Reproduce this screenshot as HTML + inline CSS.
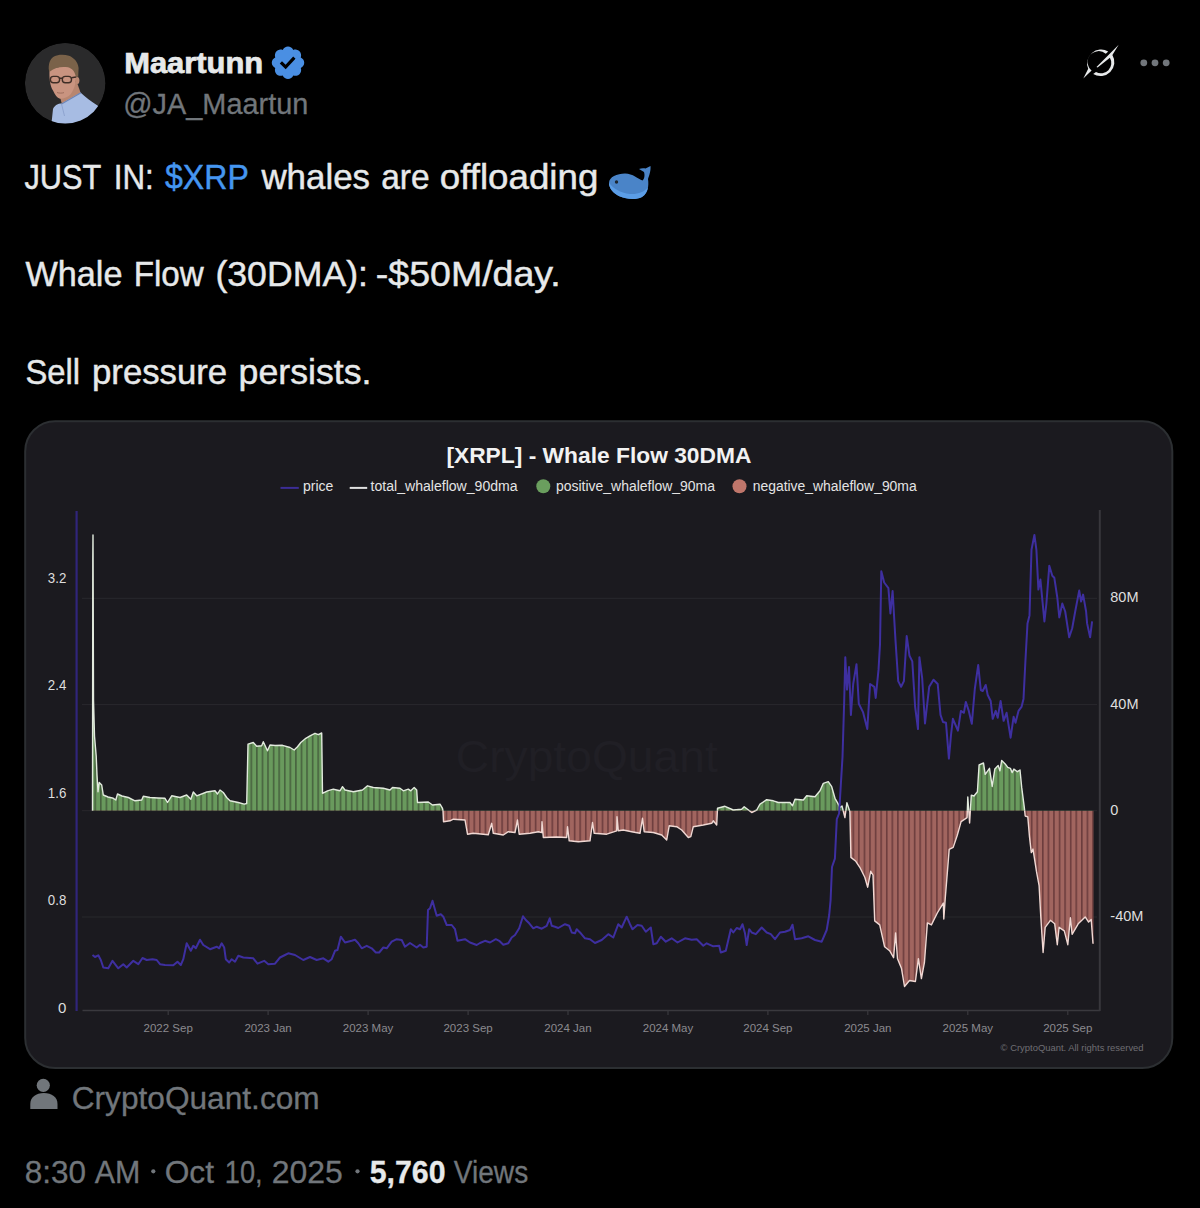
<!DOCTYPE html>
<html><head><meta charset="utf-8"><title>Maartunn on X</title>
<style>
html,body{margin:0;padding:0;background:#000;width:1200px;height:1208px;overflow:hidden}
svg{display:block}
</style></head><body>
<svg width="1200" height="1208" viewBox="0 0 1200 1208" font-family="Liberation Sans, sans-serif">
<defs>
<clipPath id="av"><circle cx="65.2" cy="83.2" r="40.3"/></clipPath>
<pattern id="pg" patternUnits="userSpaceOnUse" x="100" y="0" width="5.574" height="20">
<rect width="5.574" height="20" fill="#699a5d"/><rect width="1.6" height="20" fill="#47623f"/></pattern>
<pattern id="pr" patternUnits="userSpaceOnUse" x="100" y="0" width="5.574" height="20">
<rect width="5.574" height="20" fill="#a1655f"/><rect width="1.6" height="20" fill="#6c3d3d"/></pattern>
<clipPath id="up"><rect x="80" y="500" width="1030" height="310.70000000000005"/></clipPath>
<clipPath id="dn"><rect x="80" y="810.7" width="1030" height="220"/></clipPath>
</defs>

<!-- avatar -->
<g clip-path="url(#av)">
<circle cx="65.2" cy="83.2" r="40.3" fill="#2a2a2b"/>
<path d="M60,97 L62,104.5 L80.5,92.5 L76.5,81 Z" fill="#b88670"/>
<path d="M51,128 L53,109 C55,105 58,103.5 61.5,103.5 L80.5,92.5 C85,96.5 91,101.5 99,106.5 L106,128 Z" fill="#a7bce3"/>
<path d="M61.5,104 L81,92.8" stroke="#6d84b5" stroke-width="1.1" fill="none"/>
<path d="M61.5,104 L64.5,116" stroke="#8ea3cf" stroke-width="1" fill="none"/>
<path d="M49.6,69 C49,78 50,86 53,90.5 C55,95 57,98 60,98.7 C64,98.7 68,97 70.5,94.5 C73.5,90.5 75.5,85 76.3,78 L77,72 C75,68 70,66 64,66.5 C58,67 53,68 49.6,69 Z" fill="#c99480"/>
<ellipse cx="77.3" cy="80.5" rx="2.1" ry="3.6" fill="#bd8a74"/>
<path d="M49,71 C48,64 50,59 54,56.5 C58,54.5 64,54.3 69,55.8 C74,57.8 78,62 78.6,68 L78.2,77 L75.8,76.5 C74.8,71.5 72,68.3 68,67.3 C62,66.2 55,67.2 50,71.5 Z" fill="#7a6249"/>
<g fill="none" stroke="#3f2e26" stroke-width="1.4">
<rect x="50.4" y="76.4" width="9.2" height="6.4" rx="3"/>
<rect x="62.3" y="76.4" width="9.2" height="6.4" rx="3"/>
<path d="M59.6,78.3 L62.3,78.3 M71.5,77.8 L76,77"/>
</g>
<path d="M57,92.5 C59,93.3 62,93.3 64,92.6" stroke="#9a6a58" stroke-width="0.9" fill="none"/>
</g>

<!-- name -->
<text id="name" x="124.2" y="73.3" font-size="30.3" font-weight="bold" fill="#e7e9ea" stroke="#e7e9ea" stroke-width="0.75" textLength="139" lengthAdjust="spacingAndGlyphs">Maartunn</text>
<svg x="269" y="43.7" width="38" height="38" viewBox="0 0 22 22"><path fill="#4a8fe3" d="M20.396 11c-.018-.646-.215-1.275-.57-1.816-.354-.54-.852-.972-1.438-1.246.223-.607.27-1.264.14-1.897-.131-.634-.437-1.218-.882-1.687-.47-.445-1.053-.75-1.687-.882-.633-.13-1.29-.083-1.897.14-.273-.587-.704-1.086-1.245-1.44S11.647 1.62 11 1.604c-.646.017-1.273.213-1.813.568s-.969.854-1.24 1.44c-.608-.223-1.267-.272-1.902-.14-.635.13-1.22.436-1.69.882-.445.47-.749 1.055-.878 1.688-.13.633-.08 1.29.144 1.896-.587.274-1.087.705-1.443 1.245-.356.54-.555 1.17-.574 1.817.02.647.218 1.276.574 1.817.356.54.856.972 1.443 1.245-.224.606-.274 1.263-.144 1.896.13.634.433 1.218.877 1.688.47.443 1.054.747 1.687.878.633.132 1.29.084 1.897-.136.274.586.705 1.084 1.246 1.439.54.354 1.17.551 1.816.569.647-.016 1.276-.213 1.817-.567s.972-.854 1.245-1.44c.604.239 1.266.296 1.903.164.636-.132 1.22-.447 1.68-.907.46-.46.776-1.044.908-1.681s.075-1.299-.165-1.903c.586-.274 1.084-.705 1.439-1.246.354-.54.551-1.17.569-1.816zM9.662 14.85l-3.429-3.428 1.293-1.302 2.072 2.072 4.4-4.794 1.347 1.246z"/></svg>
<text id="handle" x="123.3" y="114.2" font-size="29" fill="#71767b" stroke="#71767b" stroke-width="0.3" textLength="185" lengthAdjust="spacingAndGlyphs">@JA_Maartun</text>

<!-- grok + more -->
<g fill="#e7e9ea">
<path d="M1108.2,51.4 A14,14 0 0 0 1088.2,68.8 L1083.3,78.5 L1091.6,70.6 A10.4,10.4 0 0 1 1105.8,53.7 Z"/>
<path d="M1093.2,74.1 A14,14 0 0 0 1112.4,54.9 L1118.7,44.8 L1096.5,67.1 L1097.6,67.4 L1109.9,57.7 A10.4,10.4 0 0 1 1096,72.1 Z"/>
</g>
<circle cx="1143.8" cy="62.8" r="3.4" fill="#71767b"/>
<circle cx="1155" cy="62.8" r="3.4" fill="#71767b"/>
<circle cx="1166.2" cy="62.8" r="3.4" fill="#71767b"/>

<!-- tweet text -->
<g font-size="35" fill="#e7e9ea" stroke="#e7e9ea" stroke-width="0.45">
<text x="24.5" y="189" textLength="76.8" lengthAdjust="spacingAndGlyphs">JUST</text>
<text x="113.75" y="189" textLength="40.0" lengthAdjust="spacingAndGlyphs">IN:</text>
<text x="165" y="189" textLength="83.8" lengthAdjust="spacingAndGlyphs" fill="#4596f0" stroke="#4596f0">$XRP</text>
<text x="261.4" y="189" textLength="108.6" lengthAdjust="spacingAndGlyphs">whales</text>
<text x="381.2" y="189" textLength="48.4" lengthAdjust="spacingAndGlyphs">are</text>
<text x="439.8" y="189" textLength="158.5" lengthAdjust="spacingAndGlyphs">offloading</text>
<text x="25.5" y="286.2" textLength="97.0" lengthAdjust="spacingAndGlyphs">Whale</text>
<text x="133.75" y="286.2" textLength="70.0" lengthAdjust="spacingAndGlyphs">Flow</text>
<text x="215.4" y="286.2" textLength="152.6" lengthAdjust="spacingAndGlyphs">(30DMA):</text>
<text x="375.8" y="286.2" textLength="185.0" lengthAdjust="spacingAndGlyphs">-$50M/day.</text>
<text x="25.4" y="383.7" textLength="54.6" lengthAdjust="spacingAndGlyphs">Sell</text>
<text x="92" y="383.7" textLength="135.2" lengthAdjust="spacingAndGlyphs">pressure</text>
<text x="238.6" y="383.7" textLength="132.8" lengthAdjust="spacingAndGlyphs">persists.</text>
</g>
<!-- whale emoji -->
<g transform="translate(600,160)">
<path d="M9,23 C9,17 17,13.5 25,13.5 C33,13.5 38,19 42.5,20.5 C44.5,19 45,15 44,12 L39,9 C41,8 44,8 45.5,8.5 L50.5,6 C51,11 49,16 48,19 C49,26 48,33 42,37 C36,40 27,39.5 20,36.5 C13,33.5 9,28 9,23 Z" fill="#4a84c8"/>
<path d="M9,23 C9,28 13,33.5 20,36.5 C27,39.5 36,40 42,37 C45.5,35 47.5,31 47.8,27.5 C44,32 38,34.5 30,34 C20,33 13,28 9,23 Z" fill="#5b9de6"/>
<circle cx="16.5" cy="22" r="1.7" fill="#1c2530"/>
</g>

<!-- card -->
<rect x="25.2" y="421.2" width="1147.1" height="646.8" rx="30" ry="30" fill="#1b1a1f" stroke="#2c2f32" stroke-width="2"/>

<!-- title + legend -->
<text x="446.4" y="462.5" font-size="22" font-weight="bold" fill="#f2f2f2" textLength="305" lengthAdjust="spacingAndGlyphs">[XRPL] - Whale Flow 30DMA</text>
<g font-size="14" fill="#e4e4e4">
<path d="M280.5,487.9H298.8" stroke="#3c2d96" stroke-width="2"/>
<text x="303" y="491.3">price</text>
<path d="M349.7,487.9H367.2" stroke="#e0e0e0" stroke-width="2"/>
<text x="370.6" y="491.3" textLength="147" lengthAdjust="spacingAndGlyphs">total_whaleflow_90dma</text>
<circle cx="543.3" cy="486.3" r="7" fill="#6a9e5e"/>
<text x="556" y="491.3" textLength="159" lengthAdjust="spacingAndGlyphs">positive_whaleflow_90ma</text>
<circle cx="739.5" cy="486.3" r="7" fill="#c0766b"/>
<text x="752.7" y="491.3" textLength="164" lengthAdjust="spacingAndGlyphs">negative_whaleflow_90ma</text>
</g>

<!-- watermark -->
<text x="455.8" y="771.7" font-size="44" fill="#201f25" textLength="262" lengthAdjust="spacingAndGlyphs">CryptoQuant</text>

<!-- grid -->
<g stroke="#29282d" stroke-width="1">
<path d="M82,598.3H1097M82,704.6H1097M82,810.7H1097M82,917H1097"/>
</g>
<path d="M82.5,1010.5H1100" stroke="#3a393e" stroke-width="1.5"/>
<path d="M168.2,1010.5V1015 M268.1,1010.5V1015 M368.1,1010.5V1015 M468.1,1010.5V1015 M568.0,1010.5V1015 M668.0,1010.5V1015 M767.9,1010.5V1015 M867.8,1010.5V1015 M967.8,1010.5V1015 M1067.8,1010.5V1015" stroke="#3a393e" stroke-width="1.2"/>
<path d="M1099.8,510V1011" stroke="#38373c" stroke-width="2"/>
<path d="M76.6,511V1011" stroke="#30257a" stroke-width="2.2"/>

<!-- bars -->
<polygon points="92.5,810.7 92.5,810.7 92.8,560 93,535 93.5,700 94.5,736 96.2,756 97,775 98,791.7 99.2,782.5 101.7,785 103.3,795 108,797 113.3,798.3 115.8,800 117.5,794 122,796 128.3,797.5 135,800.8 141.7,800 143.3,796.3 150,797.5 158,798 165,798.3 167.5,802.5 171.7,795.8 180,797.5 186.7,795 190.8,799.2 193.3,792 196.7,795.8 206.7,792 215,790.8 217.5,794 220,790 223.3,792.5 226.7,797.5 230,800.8 238.3,802.5 244.2,804.2 246.7,803.5 248,744.2 253.3,742.5 256.7,746.3 261.7,745.8 263.3,741.7 267.5,750.8 270,745 275,745.5 282.5,745.3 290,747.5 294.2,750 297.5,746.7 300.8,742.5 305.8,738.3 310,735.8 315,733.3 318.3,734.7 321.7,733 322.5,793.3 327.5,790.8 333.3,789.2 340,790.8 342.5,786.7 345,790 353.3,791.7 362.5,790 367.5,785.8 373.3,787.5 383.3,788.3 390,790 392.5,787.5 400,788.3 403.3,790.8 408.3,789.2 410.8,790.8 414.2,787.5 416.7,790 417.5,802.5 428.3,802 432.5,805 440,804.2 442.5,808.3 443,810.7 443.5,821.7 450,820.8 453.3,819.2 465,820 467.5,834.2 473.3,833.3 488.3,834.7 491.7,823.3 493.3,833.3 503.3,835 508.3,831.7 515,832.5 517.5,820 519.2,834.2 530,833.3 538.3,831.7 541.7,832.5 542,821.7 543.3,837.5 556.7,837 566.7,837.5 567.5,826.7 569.2,840.8 578.3,841.7 590,840.8 592.5,822.5 594.2,833.3 606.7,834.2 616.7,830.8 617,816.7 618.3,830.8 623.3,830 631.7,831.7 640,833.3 642.5,818.3 644.2,831.7 653.3,832.5 661.7,835 666.7,840 669.2,825.8 676.7,826.7 681.7,830 688.3,837.5 690.8,836.7 693.3,826.7 703.3,825 711.7,823.3 713.3,820.8 716.7,825 717.5,808.3 725,806.3 733.3,810 741.7,809.2 744.2,806.7 751.7,812.5 756.7,810 760,804.2 766.7,799.7 773.3,800.8 778.3,802.5 790,802.5 792.5,805.8 795,799.2 803.3,800 806.7,795.8 815,796.7 820,790.8 823.3,783.3 828.3,781.7 831.7,786.7 835,798.3 838,803.7 840,807.5 842,806 844.9,817.6 846.9,802.7 849.9,811.7 850.9,857.4 855.8,861.3 859.8,867.3 864.8,877.2 867.7,887.2 870.7,871.3 873,875 874.7,920.9 879.7,924.9 884.6,946.8 889.6,950.7 893.6,957.7 895.6,932.9 897.5,958.7 901.5,968.6 904.5,986.5 909.5,980.5 915.4,981.5 918.4,958.7 921.4,978.6 924.4,962.7 927.4,922.9 931.4,924.9 937.3,913 943.3,903.1 943.8,919 945.2,899 949.2,849.4 953.2,847.4 957.2,835.5 961.1,821.6 967.1,817.6 967.8,797 969.6,823 971.3,795.2 974,796 977.4,791.7 979.1,764.8 983.5,763 985.2,774.3 989.5,768.3 992.2,786.5 994.8,769.1 998.2,765.6 999.9,770.9 1001.7,760.4 1005.2,763.9 1007.8,767.4 1010.4,768.3 1012.1,772.6 1013.9,769.1 1017.4,771.7 1020,770 1021.7,787.4 1024.3,807.4 1025.2,816 1027.8,816.9 1029.5,836.9 1031.3,852.6 1033,849.1 1036.5,871.7 1039.1,885.6 1040.8,916.9 1043.1,952.5 1045.2,927.3 1050.4,920.3 1054.7,923.8 1057.3,944.7 1059.1,927.3 1064.3,930.8 1067.8,944.7 1070.4,917.7 1072.1,934.3 1078.2,923.8 1085.2,916.9 1088.6,922.1 1091.2,919.5 1093,943.8 1093.5,943.8 1093.5,810.7" fill="url(#pg)" clip-path="url(#up)"/>
<polygon points="92.5,810.7 92.5,810.7 92.8,560 93,535 93.5,700 94.5,736 96.2,756 97,775 98,791.7 99.2,782.5 101.7,785 103.3,795 108,797 113.3,798.3 115.8,800 117.5,794 122,796 128.3,797.5 135,800.8 141.7,800 143.3,796.3 150,797.5 158,798 165,798.3 167.5,802.5 171.7,795.8 180,797.5 186.7,795 190.8,799.2 193.3,792 196.7,795.8 206.7,792 215,790.8 217.5,794 220,790 223.3,792.5 226.7,797.5 230,800.8 238.3,802.5 244.2,804.2 246.7,803.5 248,744.2 253.3,742.5 256.7,746.3 261.7,745.8 263.3,741.7 267.5,750.8 270,745 275,745.5 282.5,745.3 290,747.5 294.2,750 297.5,746.7 300.8,742.5 305.8,738.3 310,735.8 315,733.3 318.3,734.7 321.7,733 322.5,793.3 327.5,790.8 333.3,789.2 340,790.8 342.5,786.7 345,790 353.3,791.7 362.5,790 367.5,785.8 373.3,787.5 383.3,788.3 390,790 392.5,787.5 400,788.3 403.3,790.8 408.3,789.2 410.8,790.8 414.2,787.5 416.7,790 417.5,802.5 428.3,802 432.5,805 440,804.2 442.5,808.3 443,810.7 443.5,821.7 450,820.8 453.3,819.2 465,820 467.5,834.2 473.3,833.3 488.3,834.7 491.7,823.3 493.3,833.3 503.3,835 508.3,831.7 515,832.5 517.5,820 519.2,834.2 530,833.3 538.3,831.7 541.7,832.5 542,821.7 543.3,837.5 556.7,837 566.7,837.5 567.5,826.7 569.2,840.8 578.3,841.7 590,840.8 592.5,822.5 594.2,833.3 606.7,834.2 616.7,830.8 617,816.7 618.3,830.8 623.3,830 631.7,831.7 640,833.3 642.5,818.3 644.2,831.7 653.3,832.5 661.7,835 666.7,840 669.2,825.8 676.7,826.7 681.7,830 688.3,837.5 690.8,836.7 693.3,826.7 703.3,825 711.7,823.3 713.3,820.8 716.7,825 717.5,808.3 725,806.3 733.3,810 741.7,809.2 744.2,806.7 751.7,812.5 756.7,810 760,804.2 766.7,799.7 773.3,800.8 778.3,802.5 790,802.5 792.5,805.8 795,799.2 803.3,800 806.7,795.8 815,796.7 820,790.8 823.3,783.3 828.3,781.7 831.7,786.7 835,798.3 838,803.7 840,807.5 842,806 844.9,817.6 846.9,802.7 849.9,811.7 850.9,857.4 855.8,861.3 859.8,867.3 864.8,877.2 867.7,887.2 870.7,871.3 873,875 874.7,920.9 879.7,924.9 884.6,946.8 889.6,950.7 893.6,957.7 895.6,932.9 897.5,958.7 901.5,968.6 904.5,986.5 909.5,980.5 915.4,981.5 918.4,958.7 921.4,978.6 924.4,962.7 927.4,922.9 931.4,924.9 937.3,913 943.3,903.1 943.8,919 945.2,899 949.2,849.4 953.2,847.4 957.2,835.5 961.1,821.6 967.1,817.6 967.8,797 969.6,823 971.3,795.2 974,796 977.4,791.7 979.1,764.8 983.5,763 985.2,774.3 989.5,768.3 992.2,786.5 994.8,769.1 998.2,765.6 999.9,770.9 1001.7,760.4 1005.2,763.9 1007.8,767.4 1010.4,768.3 1012.1,772.6 1013.9,769.1 1017.4,771.7 1020,770 1021.7,787.4 1024.3,807.4 1025.2,816 1027.8,816.9 1029.5,836.9 1031.3,852.6 1033,849.1 1036.5,871.7 1039.1,885.6 1040.8,916.9 1043.1,952.5 1045.2,927.3 1050.4,920.3 1054.7,923.8 1057.3,944.7 1059.1,927.3 1064.3,930.8 1067.8,944.7 1070.4,917.7 1072.1,934.3 1078.2,923.8 1085.2,916.9 1088.6,922.1 1091.2,919.5 1093,943.8 1093.5,943.8 1093.5,810.7" fill="url(#pr)" clip-path="url(#dn)"/>
<polyline points="92.5,810.7 92.8,560 93,535 93.5,700 94.5,736 96.2,756 97,775 98,791.7 99.2,782.5 101.7,785 103.3,795 108,797 113.3,798.3 115.8,800 117.5,794 122,796 128.3,797.5 135,800.8 141.7,800 143.3,796.3 150,797.5 158,798 165,798.3 167.5,802.5 171.7,795.8 180,797.5 186.7,795 190.8,799.2 193.3,792 196.7,795.8 206.7,792 215,790.8 217.5,794 220,790 223.3,792.5 226.7,797.5 230,800.8 238.3,802.5 244.2,804.2 246.7,803.5 248,744.2 253.3,742.5 256.7,746.3 261.7,745.8 263.3,741.7 267.5,750.8 270,745 275,745.5 282.5,745.3 290,747.5 294.2,750 297.5,746.7 300.8,742.5 305.8,738.3 310,735.8 315,733.3 318.3,734.7 321.7,733 322.5,793.3 327.5,790.8 333.3,789.2 340,790.8 342.5,786.7 345,790 353.3,791.7 362.5,790 367.5,785.8 373.3,787.5 383.3,788.3 390,790 392.5,787.5 400,788.3 403.3,790.8 408.3,789.2 410.8,790.8 414.2,787.5 416.7,790 417.5,802.5 428.3,802 432.5,805 440,804.2 442.5,808.3 443,810.7 443.5,821.7 450,820.8 453.3,819.2 465,820 467.5,834.2 473.3,833.3 488.3,834.7 491.7,823.3 493.3,833.3 503.3,835 508.3,831.7 515,832.5 517.5,820 519.2,834.2 530,833.3 538.3,831.7 541.7,832.5 542,821.7 543.3,837.5 556.7,837 566.7,837.5 567.5,826.7 569.2,840.8 578.3,841.7 590,840.8 592.5,822.5 594.2,833.3 606.7,834.2 616.7,830.8 617,816.7 618.3,830.8 623.3,830 631.7,831.7 640,833.3 642.5,818.3 644.2,831.7 653.3,832.5 661.7,835 666.7,840 669.2,825.8 676.7,826.7 681.7,830 688.3,837.5 690.8,836.7 693.3,826.7 703.3,825 711.7,823.3 713.3,820.8 716.7,825 717.5,808.3 725,806.3 733.3,810 741.7,809.2 744.2,806.7 751.7,812.5 756.7,810 760,804.2 766.7,799.7 773.3,800.8 778.3,802.5 790,802.5 792.5,805.8 795,799.2 803.3,800 806.7,795.8 815,796.7 820,790.8 823.3,783.3 828.3,781.7 831.7,786.7 835,798.3 838,803.7 840,807.5 842,806 844.9,817.6 846.9,802.7 849.9,811.7 850.9,857.4 855.8,861.3 859.8,867.3 864.8,877.2 867.7,887.2 870.7,871.3 873,875 874.7,920.9 879.7,924.9 884.6,946.8 889.6,950.7 893.6,957.7 895.6,932.9 897.5,958.7 901.5,968.6 904.5,986.5 909.5,980.5 915.4,981.5 918.4,958.7 921.4,978.6 924.4,962.7 927.4,922.9 931.4,924.9 937.3,913 943.3,903.1 943.8,919 945.2,899 949.2,849.4 953.2,847.4 957.2,835.5 961.1,821.6 967.1,817.6 967.8,797 969.6,823 971.3,795.2 974,796 977.4,791.7 979.1,764.8 983.5,763 985.2,774.3 989.5,768.3 992.2,786.5 994.8,769.1 998.2,765.6 999.9,770.9 1001.7,760.4 1005.2,763.9 1007.8,767.4 1010.4,768.3 1012.1,772.6 1013.9,769.1 1017.4,771.7 1020,770 1021.7,787.4 1024.3,807.4 1025.2,816 1027.8,816.9 1029.5,836.9 1031.3,852.6 1033,849.1 1036.5,871.7 1039.1,885.6 1040.8,916.9 1043.1,952.5 1045.2,927.3 1050.4,920.3 1054.7,923.8 1057.3,944.7 1059.1,927.3 1064.3,930.8 1067.8,944.7 1070.4,917.7 1072.1,934.3 1078.2,923.8 1085.2,916.9 1088.6,922.1 1091.2,919.5 1093,943.8" fill="none" stroke="#e2eadd" stroke-width="1.4" stroke-linejoin="round" clip-path="url(#up)"/>
<polyline points="92.5,810.7 92.8,560 93,535 93.5,700 94.5,736 96.2,756 97,775 98,791.7 99.2,782.5 101.7,785 103.3,795 108,797 113.3,798.3 115.8,800 117.5,794 122,796 128.3,797.5 135,800.8 141.7,800 143.3,796.3 150,797.5 158,798 165,798.3 167.5,802.5 171.7,795.8 180,797.5 186.7,795 190.8,799.2 193.3,792 196.7,795.8 206.7,792 215,790.8 217.5,794 220,790 223.3,792.5 226.7,797.5 230,800.8 238.3,802.5 244.2,804.2 246.7,803.5 248,744.2 253.3,742.5 256.7,746.3 261.7,745.8 263.3,741.7 267.5,750.8 270,745 275,745.5 282.5,745.3 290,747.5 294.2,750 297.5,746.7 300.8,742.5 305.8,738.3 310,735.8 315,733.3 318.3,734.7 321.7,733 322.5,793.3 327.5,790.8 333.3,789.2 340,790.8 342.5,786.7 345,790 353.3,791.7 362.5,790 367.5,785.8 373.3,787.5 383.3,788.3 390,790 392.5,787.5 400,788.3 403.3,790.8 408.3,789.2 410.8,790.8 414.2,787.5 416.7,790 417.5,802.5 428.3,802 432.5,805 440,804.2 442.5,808.3 443,810.7 443.5,821.7 450,820.8 453.3,819.2 465,820 467.5,834.2 473.3,833.3 488.3,834.7 491.7,823.3 493.3,833.3 503.3,835 508.3,831.7 515,832.5 517.5,820 519.2,834.2 530,833.3 538.3,831.7 541.7,832.5 542,821.7 543.3,837.5 556.7,837 566.7,837.5 567.5,826.7 569.2,840.8 578.3,841.7 590,840.8 592.5,822.5 594.2,833.3 606.7,834.2 616.7,830.8 617,816.7 618.3,830.8 623.3,830 631.7,831.7 640,833.3 642.5,818.3 644.2,831.7 653.3,832.5 661.7,835 666.7,840 669.2,825.8 676.7,826.7 681.7,830 688.3,837.5 690.8,836.7 693.3,826.7 703.3,825 711.7,823.3 713.3,820.8 716.7,825 717.5,808.3 725,806.3 733.3,810 741.7,809.2 744.2,806.7 751.7,812.5 756.7,810 760,804.2 766.7,799.7 773.3,800.8 778.3,802.5 790,802.5 792.5,805.8 795,799.2 803.3,800 806.7,795.8 815,796.7 820,790.8 823.3,783.3 828.3,781.7 831.7,786.7 835,798.3 838,803.7 840,807.5 842,806 844.9,817.6 846.9,802.7 849.9,811.7 850.9,857.4 855.8,861.3 859.8,867.3 864.8,877.2 867.7,887.2 870.7,871.3 873,875 874.7,920.9 879.7,924.9 884.6,946.8 889.6,950.7 893.6,957.7 895.6,932.9 897.5,958.7 901.5,968.6 904.5,986.5 909.5,980.5 915.4,981.5 918.4,958.7 921.4,978.6 924.4,962.7 927.4,922.9 931.4,924.9 937.3,913 943.3,903.1 943.8,919 945.2,899 949.2,849.4 953.2,847.4 957.2,835.5 961.1,821.6 967.1,817.6 967.8,797 969.6,823 971.3,795.2 974,796 977.4,791.7 979.1,764.8 983.5,763 985.2,774.3 989.5,768.3 992.2,786.5 994.8,769.1 998.2,765.6 999.9,770.9 1001.7,760.4 1005.2,763.9 1007.8,767.4 1010.4,768.3 1012.1,772.6 1013.9,769.1 1017.4,771.7 1020,770 1021.7,787.4 1024.3,807.4 1025.2,816 1027.8,816.9 1029.5,836.9 1031.3,852.6 1033,849.1 1036.5,871.7 1039.1,885.6 1040.8,916.9 1043.1,952.5 1045.2,927.3 1050.4,920.3 1054.7,923.8 1057.3,944.7 1059.1,927.3 1064.3,930.8 1067.8,944.7 1070.4,917.7 1072.1,934.3 1078.2,923.8 1085.2,916.9 1088.6,922.1 1091.2,919.5 1093,943.8" fill="none" stroke="#f0d8d3" stroke-width="1.4" stroke-linejoin="round" clip-path="url(#dn)"/>

<!-- price -->
<polyline points="92.5,955 95,957 98.3,955.3 100.8,960 103.3,967.5 108.3,968.3 112.5,960.8 118.3,968.3 123.3,964.2 126.7,967.5 133.3,960.8 138.3,964.2 142.5,958 146.7,960 152.5,959.2 156.7,960 160,964.2 165,965 173.3,965.3 177.5,961.7 180.8,965 183.3,959.2 186.7,943.3 190.8,950.8 193.3,945.8 195.8,948.3 200,939.7 203.3,945 210,949.2 216.7,946.7 219.2,948.3 221.7,943.3 224.2,947.5 225.8,959.2 229.2,962.5 231.7,959.2 235,961.7 238.3,955.8 243.3,957.5 253.3,958.3 257.5,963.7 264.2,960.8 268.3,964.2 275,963.7 280,957.5 285,955 288.3,953.3 295,955 303.3,960 310,957 316.7,960 323.3,958.3 328.3,961.7 331.7,959.2 335,950.8 337.5,950 340.8,936.7 345,942.5 351.7,940.8 355,939.7 358.3,943.3 361.7,948.3 366.7,945.8 371.7,948.3 375.8,952.5 379.2,952.5 383.3,947.5 386.7,948.3 391.7,941.7 396.7,939.2 401.7,940 405,946.7 410,943 416.7,947.5 420,944.7 423.3,947.5 426.7,946.7 428,910 430,908.3 432.5,900.8 436.7,915.8 440.8,914.2 443.3,916.7 446.7,925 451.7,925 455,929.2 457.5,940.8 465,939.2 470,942.5 476.7,945 480,943 485,940.8 490,942.5 495.8,939.2 499.2,940.8 503.3,944.7 508.3,943.3 511.7,937.5 515,935 519.2,928.3 523,916.3 525.8,920 529.2,923.3 533.3,928.3 536.7,926.7 541.7,928.7 546.7,925.8 549.7,918.3 551.7,925.8 555,926.7 558.3,928 565,924.2 569.2,925.8 571.7,932.5 575,933.3 576.7,929.2 580.8,933.3 585,938.3 590,939.2 595,943 601.7,940 608.3,934.2 613.3,937.5 618.3,924.2 621.7,927.5 626.7,916.7 630,924.2 632.5,929.2 637.5,925 641.7,925.8 645.8,931.7 650.8,927.5 653.3,944.2 656.7,943.3 660.8,936.7 665.8,941.7 671.7,938.3 677.5,942.5 685,938.3 691.7,939.7 696.7,939.2 703.3,945.8 706.7,943.3 713.3,946.3 719.2,945.8 720.8,952.5 725.8,950.8 730.8,929.2 733.3,932.5 736.7,928 740,929.2 742.5,924.2 745,933.3 746.7,945 749.2,929.2 751.7,932.5 755.8,934.2 761.7,927.5 766.7,932.5 770.8,934.2 775,939.2 780,932.5 785,931.7 790,930 792.5,924.7 795,939.2 801.7,938.3 808.3,936.3 815,940 821.7,941.7 826.7,930 829.2,915 830.6,900 832,867 834.9,858.6 836.8,819.2 839.1,813.5 840.5,790 842.5,757.2 844.2,700.8 845.3,657.2 847,689.6 849,667 850.9,714.9 853.2,684 856.5,664.2 858.8,703.7 863,712.1 867.3,729 870.1,684 874.3,686.8 875.7,698 878.5,669.9 880,644.5 881.3,571.3 884.2,582.5 888.4,588.2 890.4,613.5 892.6,591 895.4,638.9 898.2,681.1 901.1,686.8 903.9,681.1 906.7,636.1 909.5,655.8 912.3,661.4 915.1,706.5 918,729 919.4,657.2 922.2,678.3 925,723.4 929.2,686.8 933.5,679.7 937.7,684 940.5,714.9 943,722 946,722.8 948.9,758.6 951,735 952.9,718.8 957.9,730.7 960.9,710.9 963.9,712.8 965.8,701.9 968.8,710.9 971.8,723.8 974.8,689 978.2,665.1 980.8,690 982.7,691 985.7,685 987.7,695 990.7,701 992.7,718.8 995.7,710.9 997.7,717.8 1000.6,700.9 1003.6,720.8 1006.6,712.8 1010.6,737.7 1013.6,716.8 1015.5,722.8 1018.5,710.9 1021.5,706.9 1023.5,698.9 1025.5,659.2 1027.5,623.4 1029.5,615.4 1031.5,549.8 1034.4,534.9 1036.4,549.8 1038.4,589.6 1040.4,579.6 1044.4,621.4 1046.4,603.5 1049.3,565.7 1052.3,575.7 1054.3,577.7 1057.3,597.5 1059.3,617.4 1062.3,603.5 1065.2,611.5 1069.2,637.3 1072.2,628.3 1075.2,611.5 1079.2,590.6 1081.1,601.5 1083.1,594.6 1086.1,611.5 1087.1,623.4 1090.1,637.3 1092.1,621.4" fill="none" stroke="#3e2fa0" stroke-width="2" stroke-linejoin="round"/>

<!-- axis labels -->
<g font-size="15" fill="#dedede" text-anchor="end">
<text x="66.3" y="582.6" textLength="18.5" lengthAdjust="spacingAndGlyphs">3.2</text>
<text x="66.3" y="690.2" textLength="18.5" lengthAdjust="spacingAndGlyphs">2.4</text>
<text x="66.3" y="797.9" textLength="18.5" lengthAdjust="spacingAndGlyphs">1.6</text>
<text x="66.3" y="905.4" textLength="18.5" lengthAdjust="spacingAndGlyphs">0.8</text>
<text x="66.3" y="1013.0">0</text>
</g>
<g font-size="14.5" fill="#dedede">
<text x="1110.3" y="602.2">80M</text>
<text x="1110.3" y="708.5">40M</text>
<text x="1110.3" y="814.7">0</text>
<text x="1110.3" y="921.0">-40M</text>
</g>
<g font-size="11.5" fill="#8b8a8f" text-anchor="middle">
<text x="168.2" y="1031.6">2022 Sep</text>
<text x="268.1" y="1031.6">2023 Jan</text>
<text x="368.1" y="1031.6">2023 May</text>
<text x="468.1" y="1031.6">2023 Sep</text>
<text x="568.0" y="1031.6">2024 Jan</text>
<text x="668.0" y="1031.6">2024 May</text>
<text x="767.9" y="1031.6">2024 Sep</text>
<text x="867.8" y="1031.6">2025 Jan</text>
<text x="967.8" y="1031.6">2025 May</text>
<text x="1067.8" y="1031.6">2025 Sep</text>
</g>
<text x="1143.6" y="1051" font-size="9.5" fill="#6f6e73" text-anchor="end" textLength="143" lengthAdjust="spacingAndGlyphs">© CryptoQuant. All rights reserved</text>

<!-- footer -->
<circle cx="43.3" cy="1085.3" r="6.6" fill="#71767b"/>
<path d="M30.3,1109 L30.3,1104 C30.3,1097 36,1093 43.9,1093 C51.8,1093 57.5,1097 57.5,1104 L57.5,1109 Z" fill="#71767b"/>
<text x="71.7" y="1108.6" font-size="31.5" fill="#71767b" stroke="#71767b" stroke-width="0.3" textLength="248" lengthAdjust="spacingAndGlyphs">CryptoQuant.com</text>
<g font-size="30.5" fill="#71767b" stroke="#71767b" stroke-width="0.3">
<text x="24.8" y="1182.5" textLength="61.3" lengthAdjust="spacingAndGlyphs">8:30</text>
<text x="94.75" y="1182.5" textLength="45.6" lengthAdjust="spacingAndGlyphs">AM</text>
<text x="164.7" y="1182.5" textLength="49.3" lengthAdjust="spacingAndGlyphs">Oct</text>
<text x="224.8" y="1182.5" textLength="37.9" lengthAdjust="spacingAndGlyphs">10,</text>
<text x="271.7" y="1182.5" textLength="71.1" lengthAdjust="spacingAndGlyphs">2025</text>
<text x="369.7" y="1182.5" textLength="75.8" lengthAdjust="spacingAndGlyphs" font-weight="bold" fill="#e7e9ea" stroke="#e7e9ea">5,760</text>
<text x="453.7" y="1182.5" textLength="74.6" lengthAdjust="spacingAndGlyphs">Views</text>
</g>
<circle cx="153.3" cy="1171.3" r="2.1" fill="#71767b"/>
<circle cx="357.5" cy="1171.3" r="2.1" fill="#71767b"/>
</svg>
</body></html>
